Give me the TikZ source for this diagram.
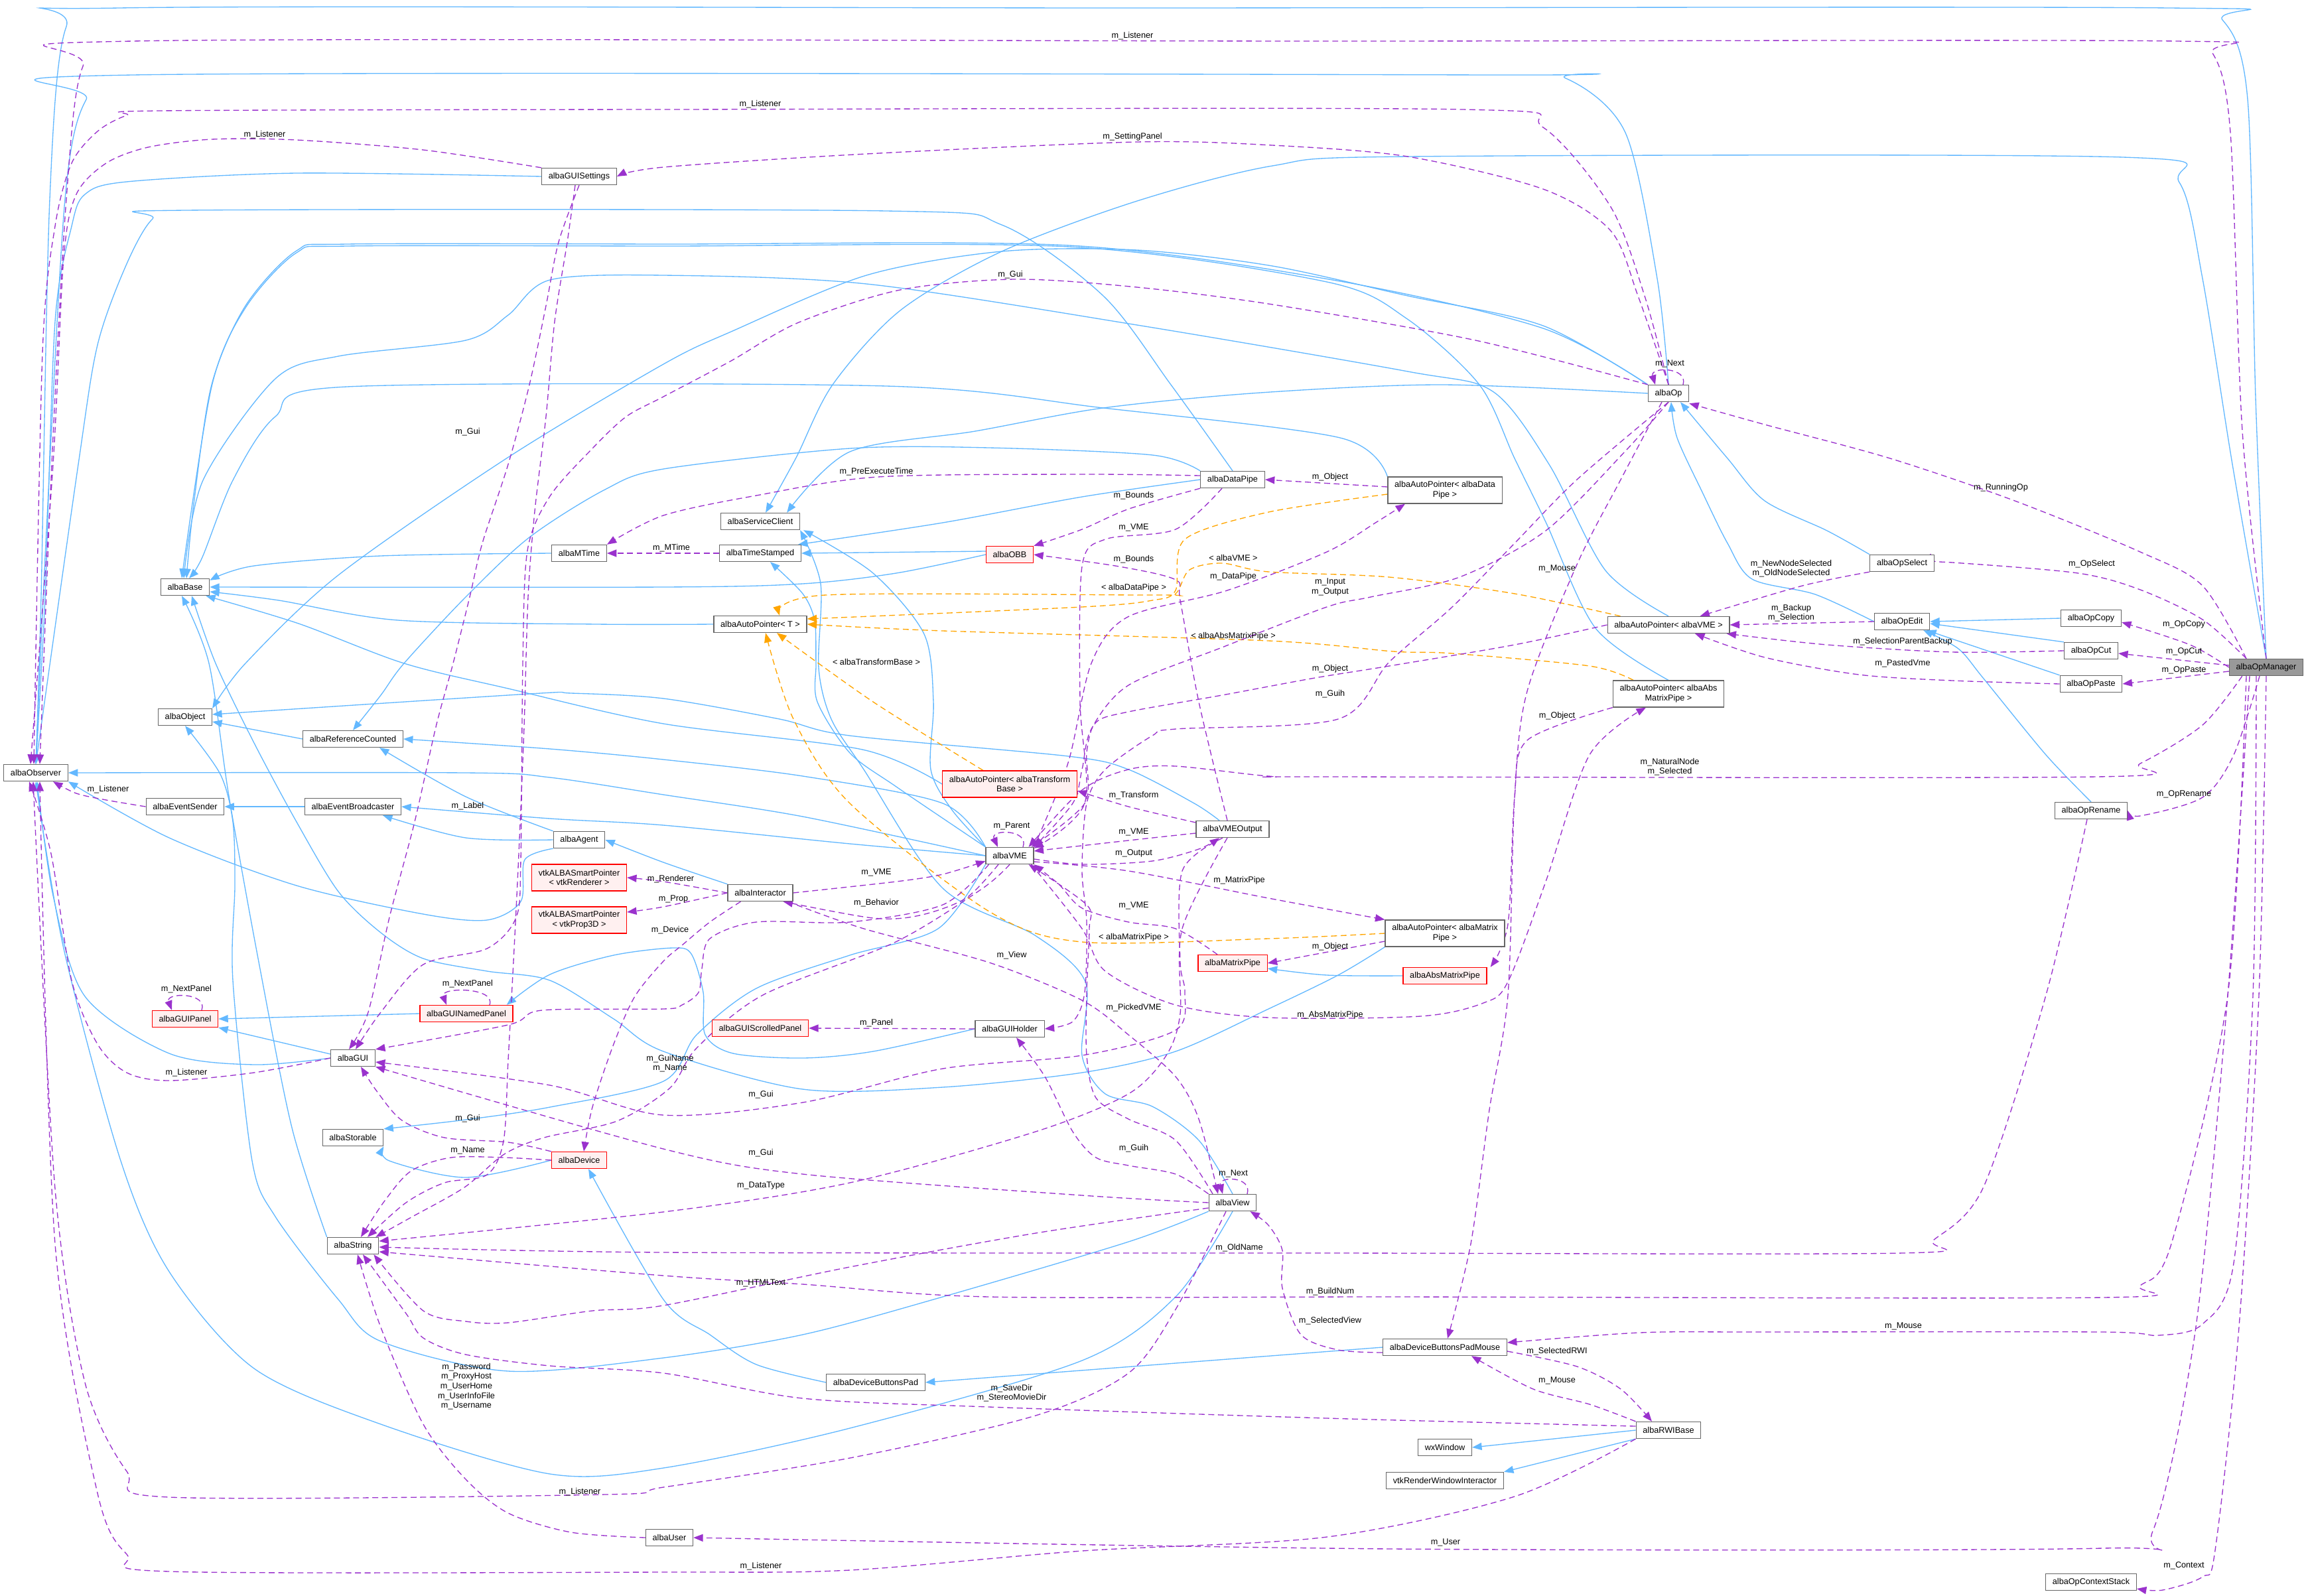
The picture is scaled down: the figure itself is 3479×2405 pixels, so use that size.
\documentclass[tikz,border=0pt]{standalone}
\usepackage{fontspec}
\setmainfont{Liberation Sans}
\usetikzlibrary{arrows.meta,calc}
\definecolor{inhc}{HTML}{63B8FF}
\definecolor{usec}{HTML}{9A32CD}
\definecolor{tmplc}{HTML}{FFA500}
\definecolor{bord}{HTML}{666666}
\definecolor{redf}{HTML}{FFF0F0}
\definecolor{grayf}{HTML}{999999}
\pgfdeclarelayer{bg}
\pgfsetlayers{bg,main}
\newcommand{\nf}{\fontsize{5.7}{6.6}\selectfont}
\tikzset{
 nbox/.style={draw=bord, fill=white, line width=0.55pt, inner xsep=4.6pt, inner ysep=0pt, minimum height=11.3pt, align=center, font=\nf},
 rbox/.style={nbox, draw=red, fill=redf},
 gbox/.style={nbox, fill=grayf},
 tall/.style={minimum height=18pt},
 lbl/.style={font=\nf, inner sep=0pt, align=center, text=black},
 inh/.style={draw=inhc, line width=0.6pt, -{Triangle[length=6.5pt,width=5pt]}},
 use/.style={draw=usec, line width=0.6pt, dash pattern=on 4pt off 2.5pt, -{Triangle[length=6.5pt,width=5pt]}},
 tmpl/.style={draw=tmplc, line width=0.6pt, dash pattern=on 4pt off 2.5pt, -{Triangle[length=6.5pt,width=5pt]}},
}
\begin{document}
\begin{tikzpicture}[x=0.45pt,y=-0.45pt]
\useasboundingbox (0,0) rectangle (3479,2405);
% ---------- nodes ----------
\node[gbox] (opmgr) at (3416,1006) {albaOpManager};
\node[nbox] (obs) at (54,1165) {albaObserver};
\node[nbox] (guiset) at (873,266) {albaGUISettings};
\node[nbox] (base) at (279,885) {albaBase};
\node[nbox] (mtime) at (873,834) {albaMTime};
\node[nbox] (svc) at (1146,786) {albaServiceClient};
\node[nbox] (ts) at (1146,834) {albaTimeStamped};
\node[rbox] (obb) at (1522,836) {albaOBB};
\node[nbox] (dpipe) at (1858,723) {albaDataPipe};
\node[nbox] (apT) at (1146,941) {albaAutoPointer< T >};
\node[nbox] (object) at (279,1081) {albaObject};
\node[nbox] (refc) at (532,1114) {albaReferenceCounted};
\node[nbox] (esend) at (279,1216) {albaEventSender};
\node[nbox] (ebroad) at (532,1216) {albaEventBroadcaster};
\node[nbox] (agent) at (873,1266) {albaAgent};
\node[rbox,tall] (spren) at (873,1323) {vtkALBASmartPointer\\< vtkRenderer >};
\node[rbox,tall] (spprop) at (873,1387) {vtkALBASmartPointer\\< vtkProp3D >};
\node[nbox] (inter) at (1146,1346) {albaInteractor};
\node[nbox] (vme) at (1522,1290) {albaVME};
\node[rbox,tall] (apTB) at (1522,1182) {albaAutoPointer< albaTransform\\Base >};
\node[nbox] (vmeout) at (1858,1250) {albaVMEOutput};
\node[rbox] (guipanel) at (279,1536) {albaGUIPanel};
\node[rbox] (guinp) at (703,1528) {albaGUINamedPanel};
\node[nbox] (gui) at (532,1595) {albaGUI};
\node[rbox] (guisp) at (1146,1550) {albaGUIScrolledPanel};
\node[nbox] (guih) at (1522,1551) {albaGUIHolder};
\node[nbox] (stor) at (532,1715) {albaStorable};
\node[rbox] (dev) at (873,1749) {albaDevice};
\node[nbox] (str) at (532,1878) {albaString};
\node[nbox] (view) at (1858,1813) {albaView};
\node[nbox] (dbp) at (1320,2084) {albaDeviceButtonsPad};
\node[nbox] (user) at (1009,2318) {albaUser};
\node[rbox] (mpipe) at (1858,1452) {albaMatrixPipe};
\node[nbox] (op) at (2515,593) {albaOp};
\node[nbox,tall] (apDP) at (2178,739) {albaAutoPointer< albaData\\Pipe >};
\node[nbox] (apVME) at (2515,942) {albaAutoPointer< albaVME >};
\node[nbox,tall] (apAMP) at (2515,1046) {albaAutoPointer< albaAbs\\MatrixPipe >};
\node[nbox,tall] (apMP) at (2178,1407) {albaAutoPointer< albaMatrix\\Pipe >};
\node[rbox] (amp) at (2178,1471) {albaAbsMatrixPipe};
\node[nbox] (opsel) at (2867,849) {albaOpSelect};
\node[nbox] (opedit) at (2867,937) {albaOpEdit};
\node[nbox] (opcopy) at (3152,932) {albaOpCopy};
\node[nbox] (opcut) at (3152,981) {albaOpCut};
\node[nbox] (oppaste) at (3152,1031) {albaOpPaste};
\node[nbox] (oprename) at (3152,1222) {albaOpRename};
\node[nbox] (dbpm) at (2178,2031) {albaDeviceButtonsPadMouse};
\node[nbox] (rwi) at (2515,2156) {albaRWIBase};
\node[nbox] (wx) at (2178,2182) {wxWindow};
\node[nbox] (vtkrwi) at (2178,2232) {vtkRenderWindowInteractor};
\node[nbox] (ctx) at (3152,2385) {albaOpContextStack};
% ---------- labels ----------
\node[lbl] (l1) at (1707,54) {m\_Listener};
\node[lbl] (l2) at (1146,157) {m\_Listener};
\node[lbl] (l3) at (1707,206) {m\_SettingPanel};
\node[lbl] (l4) at (399,203) {m\_Listener};
\node[lbl] (l5) at (1523,414) {m\_Gui};
\node[lbl] (l6) at (705,651) {m\_Gui};
\node[lbl] (l7) at (1321,711) {m\_PreExecuteTime};
\node[lbl] (l8) at (2005,719) {m\_Object};
\node[lbl] (l9) at (1709,747) {m\_Bounds};
\node[lbl] (l10) at (1709,795) {m\_VME};
\node[lbl] (l11) at (1012,826) {m\_MTime};
\node[lbl] (l12) at (1709,843) {m\_Bounds};
\node[lbl] (l13) at (1859,841) {< albaVME >};
\node[lbl] (l14) at (1859,869) {m\_DataPipe};
\node[lbl] (l15) at (2005,885) {m\_Input\\m\_Output};
\node[lbl] (l16) at (1709,886) {< albaDataPipe >};
\node[lbl] (l17) at (1859,959) {< albaAbsMatrixPipe >};
\node[lbl] (l18) at (1321,998) {< albaTransformBase >};
\node[lbl] (l19) at (2005,1008) {m\_Object};
\node[lbl] (l20) at (2005,1046) {m\_Guih};
\node[lbl] (l21) at (1709,1199) {m\_Transform};
\node[lbl] (l22) at (1525,1245) {m\_Parent};
\node[lbl] (l23) at (1709,1254) {m\_VME};
\node[lbl] (l24) at (1709,1286) {m\_Output};
\node[lbl] (l25) at (1321,1315) {m\_VME};
\node[lbl] (l26) at (1868,1327) {m\_MatrixPipe};
\node[lbl] (l27) at (1321,1361) {m\_Behavior};
\node[lbl] (l28) at (1709,1365) {m\_VME};
\node[lbl] (l29) at (1709,1413) {< albaMatrixPipe >};
\node[lbl] (l30) at (1525,1440) {m\_View};
\node[lbl] (l31) at (2005,1427) {m\_Object};
\node[lbl] (l32) at (1709,1519) {m\_PickedVME};
\node[lbl] (l33) at (2005,1530) {m\_AbsMatrixPipe};
\node[lbl] (l34) at (1321,1542) {m\_Panel};
\node[lbl] (l35) at (1010,1603) {m\_GuiName\\m\_Name};
\node[lbl] (l36) at (1147,1650) {m\_Gui};
\node[lbl] (l37) at (1709,1731) {m\_Guih};
\node[lbl] (l38) at (1147,1738) {m\_Gui};
\node[lbl] (l39) at (1859,1769) {m\_Next};
\node[lbl] (l40) at (1147,1787) {m\_DataType};
\node[lbl] (l41) at (1868,1881) {m\_OldName};
\node[lbl] (l42) at (1147,1934) {m\_HTMLText};
\node[lbl] (l43) at (2005,1947) {m\_BuildNum};
\node[lbl] (l44) at (2005,1991) {m\_SelectedView};
\node[lbl] (l45) at (1525,2100) {m\_SaveDir\\m\_StereoMovieDir};
\node[lbl] (l46) at (1147,2361) {m\_Listener};
\node[lbl] (l47) at (874,2249) {m\_Listener};
\node[lbl] (l48) at (703,2090) {m\_Password\\m\_ProxyHost\\m\_UserHome\\m\_UserInfoFile\\m\_Username};
\node[lbl] (l49) at (2179,2325) {m\_User};
\node[lbl] (l50) at (3292,2360) {m\_Context};
\node[lbl] (l51) at (2869,1999) {m\_Mouse};
\node[lbl] (l52) at (2347,2037) {m\_SelectedRWI};
\node[lbl] (l53) at (2347,2081) {m\_Mouse};
\node[lbl] (l54) at (2517,548) {m\_Next};
\node[lbl] (l55) at (3016,735) {m\_RunningOp};
\node[lbl] (l56) at (3153,850) {m\_OpSelect};
\node[lbl] (l57) at (2700,857) {m\_NewNodeSelected\\m\_OldNodeSelected};
\node[lbl] (l58) at (2347,857) {m\_Mouse};
\node[lbl] (l59) at (2700,924) {m\_Backup\\m\_Selection};
\node[lbl] (l60) at (3292,941) {m\_OpCopy};
\node[lbl] (l61) at (2868,967) {m\_SelectionParentBackup};
\node[lbl] (l62) at (3292,982) {m\_OpCut};
\node[lbl] (l63) at (2868,1000) {m\_PastedVme};
\node[lbl] (l64) at (3292,1010) {m\_OpPaste};
\node[lbl] (l65) at (2347,1079) {m\_Object};
\node[lbl] (l66) at (2517,1156) {m\_NaturalNode\\m\_Selected};
\node[lbl] (l67) at (3292,1197) {m\_OpRename};
\node[lbl] (l68) at (1011,1325) {m\_Renderer};
\node[lbl] (l69) at (1015,1355) {m\_Prop};
\node[lbl] (l70) at (1010,1402) {m\_Device};
\node[lbl] (l71) at (705,1215) {m\_Label};
\node[lbl] (l72) at (281,1491) {m\_NextPanel};
\node[lbl] (l73) at (705,1483) {m\_NextPanel};
\node[lbl] (l74) at (281,1617) {m\_Listener};
\node[lbl] (l75) at (163,1190) {m\_Listener};
\node[lbl] (l76) at (705,1686) {m\_Gui};
\node[lbl] (l77) at (705,1734) {m\_Name};
% ---------- edges ----------
\begin{pgfonlayer}{bg}
% inheritance
\draw[inh] plot[smooth] coordinates {(opmgr.north) (3400,600) (3388,150) (3350,30) (3270,12) (1700,12) (180,12) (100,40) (75,300) (62,900) (obs.north)};
\draw[inh] plot[smooth] coordinates {(opmgr.north) (3365,700) (3320,420) (3285,275) (3200,237) (2122,236) (1918,250) (1714,303) (1510,379) (1357,468) (1255,580) (1200,690) ($(svc.north)+(8,0)$)};
\draw[inh] plot[smooth] coordinates {(op.north) (2498,420) (2450,200) (2360,118) (2250,113) (200,113) (130,150) (98,300) (70,800) (obs.north)};
\draw[inh] plot[smooth] coordinates {(op.north west) (2326,495) (2020,424) (1612,370) (1000,368) (523,368) (447,378) (370,461) (319,580) (292,760) ($(base.north)+(2,0)$)};
\draw[inh] plot[smooth] coordinates {(op.north west) (2326,491) (2122,446) (1918,401) (1714,377) (1510,379) (1306,415) (1102,500) (1000,549) (765,690) (510,867) (370,1000) (object.north east)};
\draw[inh] plot[smooth] coordinates {(op.west) (2173,580) (1900,592) (1663,615) (1470,650) (1281,681) ($(svc.north east)+(-20,0)$)};
\draw[inh] plot[smooth] coordinates {(opsel.north west) (2754,800) (2660,755) (2604,691) ($(op.south)+(18,0)$)};
\draw[inh] plot[smooth] coordinates {(opedit.west) (2736,896) (2641,873) (2604,819) (2566,742) (2528,660) ($(op.south)+(4,0)$)};
\draw[inh] (opcopy.west) -- (opedit.east);
\draw[inh] (opcut.north west) -- ($(opedit.east)+(0,3)$);
\draw[inh] (oppaste.north west) -- ($(opedit.south east)+(-5,0)$);
\draw[inh] plot[smooth] coordinates {(oprename.north) (3084,1138) (2990,1023) (2952,978) ($(opedit.south east)+(-10,0)$)};
\draw[inh] plot[smooth] coordinates {(guiset.west) (447,261) (191,274) (128,293) (108,341) (83,485) (68,900) (obs.north)};
\draw[inh] plot[smooth] coordinates {(dpipe.north) (1765,580) (1663,446) (1510,339) (1336,318) (280,317) (230,330) (190,400) (147,520) (118,700) (obs.north)};
\draw[inh] plot[smooth] coordinates {(dpipe.north west) (1737,686) (1491,675) (1281,676) (1000,707) (912,738) (798,810) (702,900) (609,1000) (574,1048) (refc.north)};
\draw[inh] plot[smooth] coordinates {(dpipe.west) (1631,749) (1421,788) ($(ts.north east)+(-5,0)$)};
\draw[inh] plot[smooth] coordinates {(apDP.north west) (2020,660) (1663,615) (1336,582) (523,583) (415,628) (351,724) (305,840) ($(base.north)+(6,0)$)};
\draw[inh] plot[smooth] coordinates {(apVME.north) (2420,860) (2335,700) (2250,590) (2122,560) (1714,490) (1306,428) (1000,415) (829,422) (766,475) (702,513) (510,537) (415,571) (306,724) ($(base.north)+(-2,0)$)};
\draw[inh] plot[smooth] coordinates {(apAMP.north) (2405,947) (2330,787) (2283,691) (2230,580) (2120,480) (2000,425) (1612,372) (1000,371) (523,371) (447,381) (370,464) (319,583) ($(base.north)+(-5,0)$)};
\draw[inh] plot[smooth] coordinates {(apT.west) (900,941) (600,935) (420,905) ($(base.east)+(0,7)$)};
\draw[inh] plot[smooth] coordinates {(apTB.west) (1300,1130) (1000,1091) (766,1038) (609,1000) (450,940) ($(base.south east)+(-6,0)$)};
\draw[inh] plot[smooth] coordinates {(apMP.south west) (2017,1470) (1912,1521) (1772,1585) (1631,1617) (1421,1639) (1210,1642) (1000,1585) (925,1536) (829,1478) (734,1464) (638,1445) (574,1406) (510,1344) (447,1239) (383,1120) (325,1000) ($(base.south)+(10,0)$)};
\draw[inh] plot[smooth] coordinates {(mtime.west) (574,838) (383,853) ($(base.north east)+(0,3)$)};
\draw[inh] plot[smooth] coordinates {(obb.west) (1351,864) (1210,880) (1000,885) (base.east)};
\draw[inh] ($(obb.west)+(0,-5)$) -- (ts.east);
\draw[inh] plot[smooth] coordinates {(str.north west) (440,1700) (390,1450) (345,1200) (315,1000) ($(base.south)+(-5,0)$)};
\draw[inh] plot[smooth] coordinates {(view.south west) (1701,1872) (1421,1955) (1210,2012) (1000,2047) (766,2067) (574,2022) (510,1959) (415,1834) (380,1750) (351,1478) (354,1335) (351,1239) (332,1167) (object.south)};
\draw[inh] plot[smooth] coordinates {(view.south) (1772,1955) (1631,2051) (1281,2153) (1000,2213) (829,2222) (574,2147) (383,2063) (255,1917) (182,1750) (96,1430) (obs.south)};
\draw[inh] plot[smooth] coordinates {(view.north) (1807,1719) (1737,1668) (1666,1649) (1631,1591) (1636,1480) (1560,1410) (1421,1339) (1302,1160) (1253,1084) (1234,1007) (1237,880) (svc.south east)};
\draw[inh] plot[smooth] coordinates {(vme.north west) (1435,1221) (1403,1160) (1407,1058) (1393,956) (1316,864) ($(svc.south east)+(5,0)$)};
\draw[inh] plot[smooth] coordinates {(vme.north west) (1351,1186) (1281,1135) (1232,1058) (1230,1000) (1228,936) (1210,895) ($(ts.south)+(15,0)$)};
\draw[inh] plot[smooth] coordinates {(vme.west) (1210,1231) (1000,1198) (829,1172) (702,1165) (obs.east)};
\draw[inh] plot[smooth] coordinates {(vme.north west) (1421,1211) (1210,1170) (1000,1145) (829,1129) (refc.east)};
\draw[inh] plot[smooth] coordinates {(vme.west) (1281,1272) (1000,1244) (829,1234) (ebroad.east)};
\draw[inh] plot[smooth] coordinates {(vme.south west) (1414,1400) (1281,1440) (1140,1490) (1050,1560) (1000,1630) (829,1669) (702,1688) (stor.north east)};
\draw[inh] plot[smooth] coordinates {($(vmeout.north)+(-20,0)$) (1800,1211) (1701,1160) (1610,1140) (1281,1109) (1175,1084) (1000,1053) (861,1045) (798,1046) ($(object.east)+(0,-4)$)};
\draw[inh] plot[smooth] coordinates {(inter.north west) (1000,1300) (agent.east)};
\draw[inh] plot[smooth] coordinates {(agent.west) (702,1263) ($(ebroad.south)+(45,0)$)};
\draw[inh] plot[smooth] coordinates {(agent.north west) (702,1201) ($(refc.south)+(40,0)$)};
\draw[inh] plot[smooth] coordinates {(agent.south west) (791,1296) (785,1359) (734,1387) (638,1378) (447,1335) (255,1263) (obs.south east)};
\draw[inh] (ebroad.west) -- (esend.east);
\draw[inh] (refc.west) -- ($(object.east)+(0,7)$);
\draw[inh] (guinp.west) -- (guipanel.east);
\draw[inh] ($(gui.west)+(0,-6)$) -- (guipanel.south east);
\draw[inh] plot[smooth] coordinates {(gui.west) (383,1605) (255,1588) (128,1502) (80,1350) ($(obs.south)+(2,0)$)};
\draw[inh] plot[smooth] coordinates {(guih.west) (1316,1585) (1210,1595) (1105,1588) (1063,1560) (1060,1496) (1042,1438) (1014,1429) (925,1440) (829,1469) ($(guinp.north east)+(-10,0)$)};
\draw[inh] plot[smooth] coordinates {(dev.west) (702,1775) (587,1750) (stor.south east)};
\draw[inh] plot[smooth] coordinates {(dbp.west) (1140,2057) (1070,2012) (1000,1959) ($(dev.south)+(14,0)$)};
\draw[inh] (dbpm.west) -- (dbp.east);
\draw[inh] plot[smooth] coordinates {(amp.west) (2000,1470) ($(mpipe.east)+(0,8)$)};
\draw[inh] (rwi.west) -- (wx.east);
\draw[inh] (rwi.south west) -- (vtkrwi.north east);
% templates
\draw[tmpl] plot[smooth] coordinates {($(apDP.west)+(0,6)$) (1912,772) (1786,813) (1772,890) (1737,905) (1631,915) ($(apT.east)+(0,-8)$)};
\draw[tmpl] plot[smooth] coordinates {($(apVME.north west)+(20,0)$) (2283,895) (2094,870) (1912,862) (1842,849) (1793,859) (1772,895) (1737,897) (1245,897) ($(apT.north)+(29,0)$)};
\draw[tmpl] plot[smooth] coordinates {($(apAMP.north)+(-53,0)$) (2396,1004) (2189,985) (2100,982) (1912,966) (1421,951) (apT.east)};
\draw[tmpl] plot[smooth] coordinates {($(apTB.north)+(-40,0)$) (1316,1058) ($(apT.south)+(25,0)$)};
\draw[tmpl] plot[smooth] coordinates {(apMP.west) (1912,1415) (1631,1420) (1491,1374) (1281,1211) (1196,1084) ($(apT.south)+(8,0)$)};
% usage
\draw[use] plot[smooth] coordinates {(opmgr.north) (3380,650) (3362,200) (3335,80) (3280,62) (2000,62) (200,62) (125,100) (100,300) (78,700) ($(obs.north)+(6,0)$)};
\draw[use] plot[smooth] coordinates {(op.north) (2479,446) (2428,312) (2326,192) (2204,165) (1000,165) (242,167) (191,174) (147,198) (108,246) (83,341) (64,532) ($(obs.north)+(-3,0)$)};
\draw[use] plot[smooth] coordinates {(op.north) (2469,446) (2428,348) (2326,285) (2122,236) (1918,219) (1714,214) (1306,232) (1000,252) (guiset.east)};
\draw[use] plot[smooth] coordinates {(guiset.north west) (638,226) (447,211) (319,210) (223,222) (160,246) (115,293) (96,389) (80,700) ($(obs.north)+(-8,0)$)};
\draw[use] plot[smooth] coordinates {(op.north west) (2224,513) (1918,459) (1714,433) (1530,421) (1357,437) (1204,486) (1102,544) (1000,598) (944,628) (893,676) (829,748) (795,830) (788,1000) (785,1296) (778,1383) (734,1430) (638,1454) (574,1526) ($(gui.north)+(4,0)$)};
\draw[use] plot[smooth] coordinates {(guiset.south) (842,365) (823,461) (798,580) (766,700) (727,819) (708,900) (683,1000) (657,1096) (625,1239) (587,1383) (555,1526) ($(gui.north)+(-6,0)$)};
\draw[use] plot[smooth] coordinates {($(guiset.south)+(-6,0)$) (855,365) (836,485) (823,628) (806,771) (796,900) (790,1096) (782,1287) (775,1430) (766,1598) (759,1720) (734,1771) (670,1783) (612,1813) ($(str.north)+(22,0)$)};
\draw[use] plot[smooth] coordinates {($(dpipe.west)+(0,-6)$) (1631,715) (1323,719) (1140,747) (1000,777) (mtime.north east)};
\draw[use] (ts.west) -- (mtime.east);
\draw[use] ($(apDP.west)+(0,-5)$) -- (dpipe.east);
\draw[use] plot[smooth] coordinates {(dpipe.south west) (1702,767) (1631,798) (obb.north east)};
\draw[use] plot[smooth] coordinates {($(dpipe.south)+(-16,0)$) (1772,798) (1666,813) (1631,854) (1628,1058) (1635,1211) ($(vme.north east)+(0,2)$)};
\draw[use] plot[smooth] coordinates {($(vmeout.north)+(-8,0)$) (1807,1058) (1779,905) (1772,874) (1687,854) (obb.east)};
\draw[use] plot[smooth] coordinates {(op.south) (2450,680) (2330,800) (2200,870) (2066,900) (2000,915) (1842,976) (1701,1033) (1645,1099) (1631,1160) (1617,1211) (vme.north east)};
\draw[use] plot[smooth] coordinates {(vme.north east) (1610,1150) (1645,1000) (1700,930) (1850,890) (2000,832) (2075,787) ($(apDP.south)+(-60,0)$)};
\draw[use] plot[smooth] coordinates {(apVME.west) (2283,972) (2094,1004) (1982,1022) (1842,1048) (1701,1073) (1652,1089) (1638,1134) (1635,1211) ($(vme.north east)+(-4,0)$)};
\draw[use] plot[smooth] coordinates {(op.south) (2377,723) (2283,819) (2189,915) (2094,998) (2017,1084) (1772,1099) (1737,1109) (1666,1160) (1638,1211) (1631,1313) (1638,1390) (1635,1496) (1617,1540) (guih.east)};
\draw[use] plot[smooth] coordinates {($(vmeout.west)+(0,-10)$) (1701,1216) ($(apTB.east)+(0,10)$)};
\draw[use] ($(vme.north)+(20,0)$) .. controls ($(vme.north)+(30,-27)$) and ($(vme.north)+(-30,-27)$) .. ($(vme.north)+(-18,0)$);
\draw[use] plot[smooth] coordinates {($(vmeout.west)+(0,6)$) (1701,1267) ($(vme.east)+(0,-7)$)};
\draw[use] plot[smooth] coordinates {($(vme.east)+(0,5)$) (1631,1303) (1737,1298) (1807,1280) ($(vmeout.south)+(-20,0)$)};
\draw[use] plot[smooth] coordinates {(inter.east) (1351,1329) (1421,1318) ($(vme.west)+(0,8)$)};
\draw[use] plot[smooth] coordinates {($(vme.east)+(0,9)$) (1701,1313) (1912,1354) (apMP.north west)};
\draw[use] plot[smooth] coordinates {($(vme.south)+(-17,0)$) (1456,1354) (1386,1380) (1316,1384) ($(inter.south east)+(-15,0)$)};
\draw[use] plot[smooth] coordinates {($(mpipe.north)+(-23,0)$) (1772,1400) (1701,1390) (1631,1369) (1596,1333) (vme.south east)};
\draw[use] plot[smooth] coordinates {($(inter.south east)+(-8,0)$) (1302,1400) (1491,1451) (1631,1508) (1701,1560) (1772,1623) (1807,1687) ($(view.north)+(-22,0)$)};
\draw[use] plot[smooth] coordinates {($(apMP.west)+(0,12)$) (mpipe.east)};
\draw[use] plot[smooth] coordinates {($(view.north)+(-30,0)$) (1772,1719) (1701,1687) (1652,1655) (1638,1591) (1638,1496) (1642,1400) (1638,1364) ($(vme.south east)+(-8,0)$)};
\draw[use] plot[smooth] coordinates {($(vme.south east)+(-4,0)$) (1631,1400) (1666,1464) (1772,1515) (1912,1534) (2141,1532) (2236,1512) (2273,1480) (2330,1329) (2396,1138) ($(apAMP.south)+(-34,0)$)};
\draw[use] (guih.west) -- (guisp.east);
\draw[use] plot[smooth] coordinates {(view.north west) (1772,1770) (1701,1757) (1652,1745) (1617,1706) (1575,1623) ($(guih.south)+(10,0)$)};
\draw[use] plot[smooth] coordinates {(view.west) (1631,1802) (1210,1770) (1000,1732) (gui.south east)};
\draw[use] plot[smooth] coordinates {($(vmeout.south)+(-15,0)$) (1782,1313) (1779,1450) (1786,1496) (1772,1553) (1631,1591) (1421,1611) (1210,1662) (1000,1681) (829,1636) ($(gui.east)+(0,6)$)};
\draw[use] plot[smooth] coordinates {($(vme.south west)+(5,0)$) (1421,1364) (1281,1390) (1140,1390) (1070,1415) (1058,1460) (1053,1496) (1028,1515) (1000,1521) (817,1523) (766,1545) (gui.north east)};
\draw[use] plot[smooth] coordinates {(vme.south) (1480,1340) (1350,1420) (1150,1500) (1050,1580) (1010,1640) (930,1690) (820,1715) (760,1740) (700,1790) (620,1835) ($(str.north east)+(-5,0)$)};
\draw[use] plot[smooth] coordinates {($(vmeout.south)+(-8,0)$) (1782,1400) (1779,1528) (1758,1591) (1701,1649) (1561,1706) (1281,1783) (1000,1827) ($(str.east)+(0,-7)$)};
\draw[use] plot[smooth] coordinates {($(view.west)+(0,8)$) (1561,1859) (1281,1910) (1000,1968) (893,1976) (766,1994) (702,1992) (638,1976) ($(str.south east)+(-8,0)$)};
\draw[use] ($(view.north)+(22,0)$) .. controls ($(view.north)+(30,-27)$) and ($(view.north)+(-22,-27)$) .. ($(view.north)+(-15,0)$);
\draw[use] plot[smooth] coordinates {($(dbpm.west)+(0,8)$) (2017,2035) (1961,2012) (1933,1942) (1933,1885) (1912,1847) ($(view.south east)+(-10,0)$)};
\draw[use] plot[smooth] coordinates {($(opmgr.south)+(-15,0)$) (3396,1500) (3367,1904) (3320,1996) (3254,2013) (3169,2008) (2660,2008) (2472,2009) ($(dbpm.east)+(0,-7)$)};
\draw[use] plot[smooth] coordinates {($(op.south)+(-10,0)$) (2443,723) (2377,851) (2302,1042) (2283,1202) (2273,1500) (2245,1673) (2217,1875) ($(dbpm.north)+(4,0)$)};
\draw[use] plot[smooth] coordinates {($(dbpm.east)+(0,6)$) (2377,2060) (2443,2094) ($(rwi.north)+(-25,0)$)};
\draw[use] plot[smooth] coordinates {(rwi.north west) (2396,2117) (2311,2094) ($(dbpm.south)+(40,0)$)};
\draw[use] plot[smooth] coordinates {($(rwi.west)+(0,-6)$) (2000,2138) (1491,2121) (1210,2108) (1000,2070) (829,2059) (702,2042) (638,2017) (612,1980) ($(str.south)+(15,0)$)};
\draw[use] plot[smooth] coordinates {(user.west) (861,2310) (766,2281) (702,2230) (638,2147) (574,2001) ($(str.south)+(7,0)$)};
\draw[use] plot[smooth] coordinates {($(view.south)+(-10,0)$) (1772,1974) (1701,2070) (1561,2134) (1281,2198) (1000,2242) (912,2253) (255,2257) (191,2218) (128,2084) (83,1792) ($(obs.south)+(-4,0)$)};
\draw[use] plot[smooth] coordinates {(rwi.south west) (2283,2256) (2000,2317) (1631,2338) (1281,2367) (1000,2370) (255,2369) (191,2343) (147,2251) (83,1875) ($(obs.south)+(6,0)$)};
\draw[use] plot[smooth] coordinates {($(opmgr.south)+(-25,0)$) (3358,1500) (3310,2000) (3245,2308) (3169,2334) (2100,2335) (user.east)};
\draw[use] plot[smooth] coordinates {(opmgr.south) (3405,1500) (3375,2000) (3339,2337) (3320,2377) (3260,2397) ($(ctx.east)+(0,10)$)};
\draw[use] plot[smooth] coordinates {($(opmgr.north)+(-30,0)$) (3320,883) (3226,832) (3037,755) (2849,691) (2660,640) ($(op.south east)+(0,2)$)};
\draw[use] plot[smooth] coordinates {($(opmgr.north)+(-30,0)$) (3320,934) (3226,889) (3132,864) (2943,848) (opsel.east)};
\draw[use] plot[smooth] coordinates {(opsel.south west) (2717,883) ($(apVME.north east)+(-45,0)$)};
\draw[use] (opedit.west) -- (apVME.east);
\draw[use] plot[smooth] coordinates {(opmgr.west) (3301,972) ($(opcopy.east)+(0,6)$)};
\draw[use] plot[smooth] coordinates {(opcut.west) (2943,983) (2754,972) ($(apVME.south east)+(-5,0)$)};
\draw[use] ($(opmgr.west)+(0,-3)$) -- ($(opcut.east)+(0,4)$);
\draw[use] plot[smooth] coordinates {(oppaste.west) (2943,1026) (2802,1017) (2660,991) ($(apVME.south)+(40,0)$)};
\draw[use] ($(opmgr.west)+(0,6)$) -- (oppaste.east);
\draw[use] plot[smooth] coordinates {(apAMP.south west) (2302,1116) (2283,1202) (2273,1393) ($(amp.north east)+(5,0)$)};
\draw[use] plot[smooth] coordinates {($(opmgr.south west)+(20,0)$) (3320,1093) (3226,1151) (3160,1171) (2000,1171) (1912,1170) (1772,1155) (1701,1160) (1631,1191) ($(vme.north east)+(-8,0)$)};
\draw[use] plot[smooth] coordinates {($(opmgr.south)+(-10,0)$) (3367,1138) (3320,1202) (3226,1230) (oprename.east)};
\draw[use] plot[smooth] coordinates {($(oprename.south)+(-6,0)$) (3084,1500) (2990,1789) (2915,1869) (2868,1889) (2000,1889) (1000,1888) ($(str.east)+(0,2)$)};
\draw[use] plot[smooth] coordinates {($(opmgr.south)+(-30,0)$) (3358,1500) (3273,1875) (3226,1938) (3169,1956) (2100,1955) (1491,1955) (1210,1936) (1000,1923) ($(str.east)+(0,9)$)};
\draw[use] plot[smooth] coordinates {(inter.west) (1000,1329) (spren.east)};
\draw[use] plot[smooth] coordinates {(inter.west) (1000,1367) ($(spprop.east)+(0,-12)$)};
\draw[use] plot[smooth] coordinates {($(inter.south west)+(20,0)$) (1070,1390) (1028,1425) (1000,1449) (957,1502) (925,1574) (893,1669) ($(dev.north)+(7,0)$)};
\draw[use] ($(guipanel.north)+(25,0)$) .. controls ($(guipanel.north)+(35,-27)$) and ($(guipanel.north)+(-30,-27)$) .. ($(guipanel.north)+(-20,0)$);
\draw[use] ($(guinp.north)+(35,0)$) .. controls ($(guinp.north)+(45,-27)$) and ($(guinp.north)+(-40,-27)$) .. ($(guinp.north)+(-30,0)$);
\draw[use] ($(op.north)+(22,0)$) .. controls ($(op.north)+(30,-27)$) and ($(op.north)+(-28,-27)$) .. ($(op.north)+(-20,0)$);
\draw[use] plot[smooth] coordinates {(gui.west) (383,1617) (255,1629) (191,1617) (147,1574) (108,1478) (77,1287) ($(obs.south)+(-10,0)$)};
\draw[use] plot[smooth] coordinates {(esend.west) (160,1206) (115,1196) ($(obs.south)+(26,0)$)};
\draw[use] plot[smooth] coordinates {(dev.north west) (766,1722) (670,1715) (606,1689) (568,1645) ($(gui.south)+(12,0)$)};
\draw[use] plot[smooth] coordinates {(dev.west) (760,1745) (680,1745) (620,1765) (580,1810) ($(str.north)+(12,0)$)};
\end{pgfonlayer}
\end{tikzpicture}
\end{document}
